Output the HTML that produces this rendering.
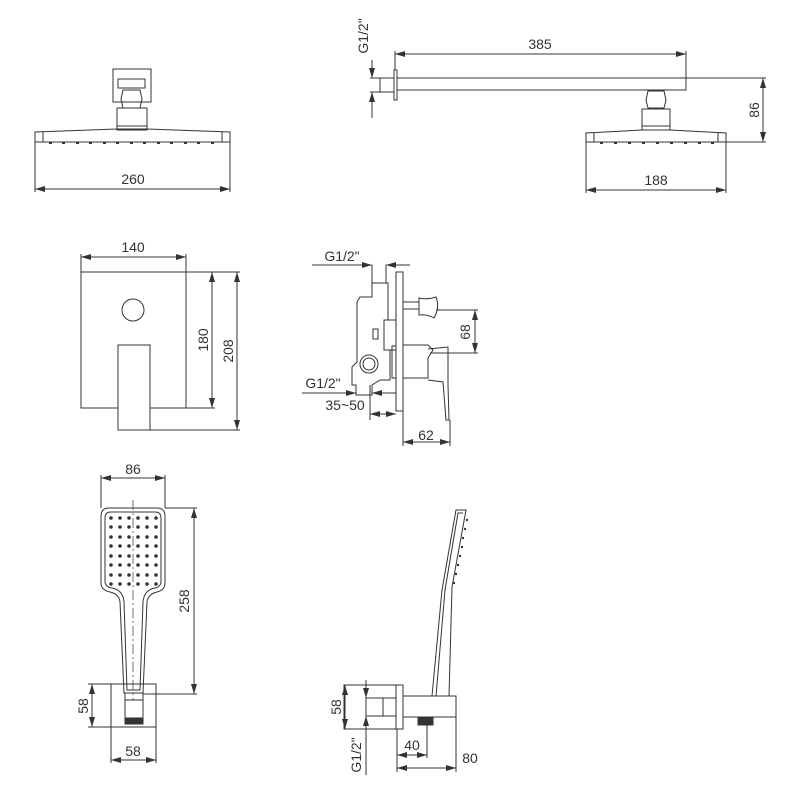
<!DOCTYPE html>
<html><head><meta charset="utf-8"><style>
html,body{margin:0;padding:0;background:#fff}
svg{display:block}
text{font-family:"Liberation Sans",sans-serif;font-size:14px;fill:#333}
</style></head><body>
<svg width="800" height="800" viewBox="0 0 800 800" xmlns="http://www.w3.org/2000/svg">
<defs>
<marker id="a" viewBox="0 0 10 6" refX="10" refY="3" markerWidth="10" markerHeight="6" orient="auto-start-reverse" markerUnits="userSpaceOnUse"><path d="M0,0 L10,3 L0,6 Z" fill="#333"/></marker>
</defs>
<g fill="none" stroke="#333" stroke-width="1">
<!-- Top-left head -->
<rect x="113" y="69" width="38" height="33"/>
<rect x="118" y="79" width="27" height="9"/>
<path d="M123,90 H140 L142,99 L140,108 H123 L121,99 Z"/>
<rect x="117" y="108" width="30" height="22"/>
<line x1="117" y1="126" x2="147" y2="126"/>
<path d="M35,132 L117,129 H147 L230,132 V142 H35 Z"/>
<line x1="43" y1="132" x2="43" y2="142"/><line x1="222" y1="132" x2="222" y2="142"/>
<line x1="35" y1="142" x2="35" y2="192"/><line x1="230" y1="142" x2="230" y2="192"/>
<line x1="35" y1="189" x2="230" y2="189" marker-start="url(#a)" marker-end="url(#a)"/>

<!-- Top-right arm -->
<line x1="372" y1="60" x2="372" y2="78" marker-end="url(#a)"/>
<line x1="372" y1="118" x2="372" y2="92" marker-end="url(#a)"/>
<line x1="370" y1="78" x2="380" y2="78"/><line x1="370" y1="92" x2="380" y2="92"/>
<rect x="380" y="78" width="14" height="14"/>
<rect x="394" y="70" width="3" height="30"/>
<rect x="397" y="78" width="289" height="12"/>
<line x1="395" y1="51" x2="395" y2="70"/><line x1="686" y1="51" x2="686" y2="78"/>
<line x1="395" y1="54" x2="686" y2="54" marker-start="url(#a)" marker-end="url(#a)"/>
<path d="M648,91 H664 L666,100 L664,108 H648 L646,100 Z"/>
<rect x="642" y="109" width="28" height="21"/>
<line x1="642" y1="126" x2="670" y2="126"/>
<path d="M586,133 L642,130 H670 L726,133 V142 H586 Z"/>
<line x1="594" y1="133" x2="594" y2="142"/><line x1="718" y1="133" x2="718" y2="142"/>
<line x1="686" y1="78" x2="766" y2="78"/><line x1="726" y1="142" x2="766" y2="142"/>
<line x1="763" y1="78" x2="763" y2="142" marker-start="url(#a)" marker-end="url(#a)"/>
<line x1="586" y1="142" x2="586" y2="193"/><line x1="726" y1="142" x2="726" y2="193"/>
<line x1="586" y1="190" x2="726" y2="190" marker-start="url(#a)" marker-end="url(#a)"/>

<!-- Middle-left plate -->
<rect x="81" y="272" width="105" height="136"/>
<circle cx="133" cy="310" r="11"/>
<rect x="118" y="345" width="32" height="85" fill="#fff"/>
<line x1="81" y1="254" x2="81" y2="272"/><line x1="186" y1="254" x2="186" y2="272"/>
<line x1="81" y1="257" x2="186" y2="257" marker-start="url(#a)" marker-end="url(#a)"/>
<line x1="186" y1="272" x2="240" y2="272"/><line x1="186" y1="408" x2="215" y2="408"/><line x1="150" y1="430" x2="240" y2="430"/>
<line x1="212" y1="272" x2="212" y2="408" marker-start="url(#a)" marker-end="url(#a)"/>
<line x1="237" y1="272" x2="237" y2="430" marker-start="url(#a)" marker-end="url(#a)"/>

<!-- Middle diverter -->
<rect x="396" y="272" width="7" height="139"/>
<path d="M372,265 V283 L372,297 H360 L357,302 V362 L352,367 V385 H356 V395 H372 V385 L380,380 H390 V350 H384 V320 H388 V283 H386 V265"/>
<line x1="372" y1="283" x2="388" y2="283"/>
<rect x="384" y="320" width="12" height="30"/>
<rect x="373" y="329" width="5" height="10"/>
<circle cx="369" cy="364" r="9"/><circle cx="369" cy="364" r="6"/>
<rect x="392" y="346" width="4" height="32"/>
<path d="M403,302 H419 V309 H403"/>
<path d="M419,298 Q427,300 436,297 Q440,308 434,318 Q427,314 419,315 Z"/>
<path d="M403,345 H428 L433,350 L428,358 V378 H403"/>
<path d="M428,349 L448,347 V385 L449,420 H446 L443,382 L428,380"/>
<line x1="312" y1="265" x2="372" y2="265" marker-end="url(#a)"/>
<line x1="410" y1="265" x2="386" y2="265" marker-end="url(#a)"/>
<line x1="436" y1="310" x2="478" y2="310"/><line x1="430" y1="353" x2="478" y2="353"/>
<line x1="475" y1="310" x2="475" y2="353" marker-start="url(#a)" marker-end="url(#a)"/>
<line x1="302" y1="393" x2="356" y2="393" marker-end="url(#a)"/>
<line x1="396" y1="393" x2="372" y2="393" marker-end="url(#a)"/>
<line x1="370" y1="385" x2="370" y2="420"/>
<line x1="370" y1="414" x2="396" y2="414" marker-start="url(#a)" marker-end="url(#a)"/>
<line x1="403" y1="411" x2="403" y2="446"/><line x1="450" y1="420" x2="450" y2="446"/>
<line x1="403" y1="442" x2="450" y2="442" marker-start="url(#a)" marker-end="url(#a)"/>

<!-- Hand shower front -->
<path d="M109,508 H157 Q165,508 165,516 V583 Q165,590 157,592 Q148,594 147,602 L143,693 H124 L120,602 Q119,594 110,592 Q101,590 101,583 V516 Q101,508 109,508 Z"/>
<path d="M111,512 H155 Q161,512 161,518 V581 Q161,587 155,588 Q144,590 143,602 L140,690 H127 L124,602 Q123,590 112,588 Q105,587 105,581 V518 Q105,512 111,512 Z"/>
<line x1="133" y1="500" x2="133" y2="700" stroke-dasharray="10,3,2,3" stroke-width="0.7"/>
<rect x="111" y="684" width="45" height="43"/>
<rect x="125" y="693" width="18" height="25"/>
<line x1="125" y1="700" x2="143" y2="700"/>
<rect x="125" y="718" width="18" height="6" fill="#333"/>
<line x1="101" y1="475" x2="101" y2="508"/><line x1="165" y1="475" x2="165" y2="508"/>
<line x1="101" y1="478" x2="165" y2="478" marker-start="url(#a)" marker-end="url(#a)"/>
<line x1="165" y1="508" x2="197" y2="508"/><line x1="143" y1="694" x2="197" y2="694"/>
<line x1="194" y1="508" x2="194" y2="694" marker-start="url(#a)" marker-end="url(#a)"/>
<line x1="88" y1="684" x2="111" y2="684"/><line x1="88" y1="727" x2="111" y2="727"/>
<line x1="92" y1="684" x2="92" y2="727" marker-start="url(#a)" marker-end="url(#a)"/>
<line x1="111" y1="727" x2="111" y2="763"/><line x1="156" y1="727" x2="156" y2="763"/>
<line x1="111" y1="760" x2="156" y2="760" marker-start="url(#a)" marker-end="url(#a)"/>

<!-- Side view -->
<rect x="344" y="685" width="59" height="44"/>
<line x1="396" y1="685" x2="396" y2="729"/>
<rect x="366" y="698" width="30" height="18"/>
<line x1="383" y1="698" x2="383" y2="716"/>
<rect x="403" y="696" width="53" height="21"/>
<rect x="418" y="718" width="15" height="7" fill="#333"/>
<path d="M432,696 L442,590 L456,510 H466 L452,587 L449,696"/>
<path d="M436,696 L445,590 L458,513 H463"/>
<line x1="345" y1="685" x2="345" y2="729" marker-start="url(#a)" marker-end="url(#a)"/>
<line x1="366" y1="680" x2="366" y2="698" marker-end="url(#a)"/>
<line x1="366" y1="775" x2="366" y2="716" marker-end="url(#a)"/>
<line x1="397" y1="729" x2="397" y2="772"/><line x1="427" y1="725" x2="427" y2="758"/><line x1="456" y1="717" x2="456" y2="772"/>
<line x1="397" y1="755" x2="427" y2="755" marker-start="url(#a)" marker-end="url(#a)"/>
<line x1="397" y1="768" x2="456" y2="768" marker-start="url(#a)" marker-end="url(#a)"/>
</g>
<g fill="#333">
<!-- dots head 1 -->
<g id="d1"><rect x="49" y="142" width="3" height="2"/><rect x="62" y="142" width="3" height="2"/><rect x="76" y="142" width="3" height="2"/><rect x="89" y="142" width="3" height="2"/><rect x="103" y="142" width="3" height="2"/><rect x="116" y="142" width="3" height="2"/><rect x="130" y="142" width="3" height="2"/><rect x="143" y="142" width="3" height="2"/><rect x="157" y="142" width="3" height="2"/><rect x="170" y="142" width="3" height="2"/><rect x="184" y="142" width="3" height="2"/><rect x="197" y="142" width="3" height="2"/><rect x="211" y="142" width="3" height="2"/></g>
<rect x="600" y="142" width="3" height="2"/><rect x="614" y="142" width="3" height="2"/><rect x="628" y="142" width="3" height="2"/><rect x="642" y="142" width="3" height="2"/><rect x="656" y="142" width="3" height="2"/><rect x="670" y="142" width="3" height="2"/><rect x="684" y="142" width="3" height="2"/><rect x="698" y="142" width="3" height="2"/><rect x="711" y="142" width="3" height="2"/>
<!-- side dots -->
<circle cx="467" cy="520" r="1.2"/><circle cx="465" cy="529" r="1.2"/><circle cx="463" cy="538" r="1.2"/><circle cx="462" cy="547" r="1.2"/><circle cx="460" cy="556" r="1.2"/><circle cx="458" cy="565" r="1.2"/><circle cx="456" cy="574" r="1.2"/><circle cx="454" cy="583" r="1.2"/>
</g>
<g fill="#333">
<script>/* none */</script>
</g>
<g fill="#333" id="grid">
<circle cx="111" cy="518" r="1.8"/><circle cx="120" cy="518" r="1.8"/><circle cx="129" cy="518" r="1.8"/><circle cx="138" cy="518" r="1.8"/><circle cx="147" cy="518" r="1.8"/><circle cx="156" cy="518" r="1.8"/>
<circle cx="111" cy="527" r="1.8"/><circle cx="120" cy="527" r="1.8"/><circle cx="129" cy="527" r="1.8"/><circle cx="138" cy="527" r="1.8"/><circle cx="147" cy="527" r="1.8"/><circle cx="156" cy="527" r="1.8"/>
<circle cx="111" cy="537" r="1.8"/><circle cx="120" cy="537" r="1.8"/><circle cx="129" cy="537" r="1.8"/><circle cx="138" cy="537" r="1.8"/><circle cx="147" cy="537" r="1.8"/><circle cx="156" cy="537" r="1.8"/>
<circle cx="111" cy="546" r="1.8"/><circle cx="120" cy="546" r="1.8"/><circle cx="129" cy="546" r="1.8"/><circle cx="138" cy="546" r="1.8"/><circle cx="147" cy="546" r="1.8"/><circle cx="156" cy="546" r="1.8"/>
<circle cx="111" cy="556" r="1.8"/><circle cx="120" cy="556" r="1.8"/><circle cx="129" cy="556" r="1.8"/><circle cx="138" cy="556" r="1.8"/><circle cx="147" cy="556" r="1.8"/><circle cx="156" cy="556" r="1.8"/>
<circle cx="111" cy="565" r="1.8"/><circle cx="120" cy="565" r="1.8"/><circle cx="129" cy="565" r="1.8"/><circle cx="138" cy="565" r="1.8"/><circle cx="147" cy="565" r="1.8"/><circle cx="156" cy="565" r="1.8"/>
<circle cx="111" cy="575" r="1.8"/><circle cx="120" cy="575" r="1.8"/><circle cx="129" cy="575" r="1.8"/><circle cx="138" cy="575" r="1.8"/><circle cx="147" cy="575" r="1.8"/><circle cx="156" cy="575" r="1.8"/>
<circle cx="111" cy="584" r="1.8"/><circle cx="120" cy="584" r="1.8"/><circle cx="129" cy="584" r="1.8"/><circle cx="138" cy="584" r="1.8"/><circle cx="147" cy="584" r="1.8"/><circle cx="156" cy="584" r="1.8"/>
</g>
<g>
<text x="133" y="184" text-anchor="middle">260</text>
<text x="540" y="49" text-anchor="middle">385</text>
<text x="656" y="185" text-anchor="middle">188</text>
<text transform="translate(368,36) rotate(-90)" text-anchor="middle">G1/2"</text>
<text transform="translate(759,110) rotate(-90)" text-anchor="middle">86</text>
<text x="133" y="252" text-anchor="middle">140</text>
<text transform="translate(208,340) rotate(-90)" text-anchor="middle">180</text>
<text transform="translate(233,351) rotate(-90)" text-anchor="middle">208</text>
<text x="342" y="261" text-anchor="middle">G1/2"</text>
<text transform="translate(470,332) rotate(-90)" text-anchor="middle">68</text>
<text x="323" y="388" text-anchor="middle">G1/2"</text>
<text x="345" y="410" text-anchor="middle">35~50</text>
<text x="426" y="440" text-anchor="middle">62</text>
<text x="133" y="474" text-anchor="middle">86</text>
<text transform="translate(189,601) rotate(-90)" text-anchor="middle">258</text>
<text transform="translate(88,706) rotate(-90)" text-anchor="middle">58</text>
<text x="133" y="756" text-anchor="middle">58</text>
<text transform="translate(341,707) rotate(-90)" text-anchor="middle">58</text>
<text transform="translate(361,755) rotate(-90)" text-anchor="middle">G1/2"</text>
<text x="412" y="750" text-anchor="middle">40</text>
<text x="470" y="763" text-anchor="middle">80</text>
</g>
</svg>
</body></html>
